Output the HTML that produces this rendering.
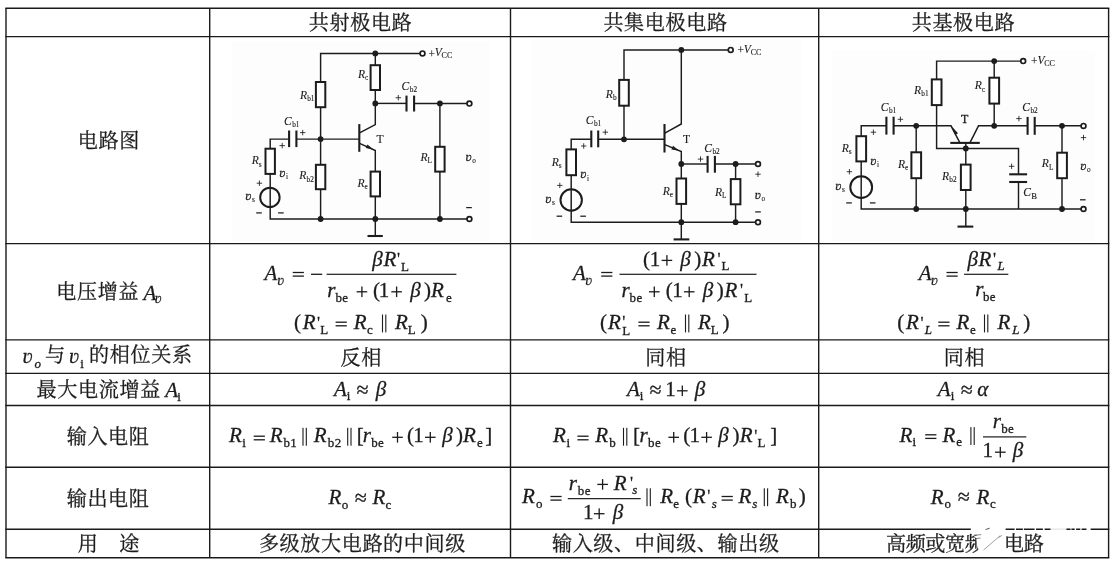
<!DOCTYPE html>
<html><head><meta charset="utf-8"><title>三种基本放大电路比较</title>
<style>
html,body{margin:0;padding:0;background:#fff}
#page{will-change:transform;filter:grayscale(1);position:relative;width:1114px;height:563px;overflow:hidden;background:#fff;font-family:"Liberation Serif",serif;color:#1c1c1c}
#page svg{position:absolute;left:0;top:0}
#page span{position:absolute;white-space:pre;line-height:1;font-family:"Liberation Serif",serif}
</style></head><body><div id="page">
<svg width="1114" height="563" viewBox="0 0 1114 563">
<g fill="#1c1c1c" stroke="#1c1c1c" stroke-width="0">
<rect x="232" y="41" width="258" height="200" fill="#fdfdfd"/>
<rect x="531" y="39" width="270" height="203" fill="#fdfdfd"/>
<rect x="832" y="51" width="263" height="190" fill="#fdfdfd"/>
<line x1="5.3" y1="8.3" x2="1109.3" y2="8.3" stroke="#1a1a1a" stroke-width="1.40"/>
<line x1="5.3" y1="36.6" x2="1109.3" y2="36.6" stroke="#1a1a1a" stroke-width="1.40"/>
<line x1="5.3" y1="243.6" x2="1109.3" y2="243.6" stroke="#1a1a1a" stroke-width="1.40"/>
<line x1="5.3" y1="339.9" x2="1109.3" y2="339.9" stroke="#1a1a1a" stroke-width="1.40"/>
<line x1="5.3" y1="373.4" x2="1109.3" y2="373.4" stroke="#1a1a1a" stroke-width="1.40"/>
<line x1="5.3" y1="405.5" x2="1109.3" y2="405.5" stroke="#1a1a1a" stroke-width="1.40"/>
<line x1="5.3" y1="467.2" x2="1109.3" y2="467.2" stroke="#1a1a1a" stroke-width="1.40"/>
<line x1="5.3" y1="529.3" x2="1109.3" y2="529.3" stroke="#1a1a1a" stroke-width="1.40"/>
<line x1="5.3" y1="557.7" x2="1109.3" y2="557.7" stroke="#1a1a1a" stroke-width="1.40"/>
<line x1="6.0" y1="8.3" x2="6.0" y2="557.7" stroke="#1a1a1a" stroke-width="1.40"/>
<line x1="209.7" y1="8.3" x2="209.7" y2="557.7" stroke="#1a1a1a" stroke-width="1.40"/>
<line x1="510.5" y1="8.3" x2="510.5" y2="557.7" stroke="#1a1a1a" stroke-width="1.40"/>
<line x1="818.7" y1="8.3" x2="818.7" y2="557.7" stroke="#1a1a1a" stroke-width="1.40"/>
<line x1="1108.6" y1="8.3" x2="1108.6" y2="557.7" stroke="#1a1a1a" stroke-width="1.40"/>
<polyline points="320.6,139.1 320.6,53.4 420.2,53.4" fill="none" stroke="#1c1c1c" stroke-width="1.45" stroke-linejoin="miter"/>
<line x1="320.6" y1="139.1" x2="320.6" y2="219.0" stroke="#1c1c1c" stroke-width="1.45"/>
<polyline points="375.3,53.4 375.3,124.6 359.6,132.9" fill="none" stroke="#1c1c1c" stroke-width="1.45" stroke-linejoin="miter"/>
<polyline points="359.6,143.4 375.3,150.5 375.3,236.0" fill="none" stroke="#1c1c1c" stroke-width="1.45" stroke-linejoin="miter"/>
<polygon points="365.7,148.1 367.5,144.5 373.4,149.6" fill="#1c1c1c"/>
<line x1="359.3" y1="124.1" x2="359.3" y2="151.8" stroke="#1c1c1c" stroke-width="2.10"/>
<line x1="296.4" y1="139.1" x2="359.3" y2="139.1" stroke="#1c1c1c" stroke-width="1.45"/>
<line x1="289.1" y1="130.5" x2="289.1" y2="147.1" stroke="#1c1c1c" stroke-width="2.10"/>
<line x1="296.4" y1="130.5" x2="296.4" y2="147.1" stroke="#1c1c1c" stroke-width="2.10"/>
<polyline points="289.1,139.1 270.2,139.1 270.2,219.0 467.1,219.0" fill="none" stroke="#1c1c1c" stroke-width="1.45" stroke-linejoin="miter"/>
<line x1="375.3" y1="103.4" x2="406.5" y2="103.4" stroke="#1c1c1c" stroke-width="1.45"/>
<line x1="414.1" y1="103.4" x2="467.1" y2="103.4" stroke="#1c1c1c" stroke-width="1.45"/>
<line x1="406.5" y1="95.6" x2="406.5" y2="111.5" stroke="#1c1c1c" stroke-width="2.10"/>
<line x1="414.1" y1="95.6" x2="414.1" y2="111.5" stroke="#1c1c1c" stroke-width="2.10"/>
<line x1="439.9" y1="103.4" x2="439.9" y2="219.0" stroke="#1c1c1c" stroke-width="1.45"/>
<line x1="367.5" y1="236.0" x2="382.8" y2="236.0" stroke="#1c1c1c" stroke-width="2.10"/>
<rect x="315.9" y="82.0" width="9.4" height="25.2" fill="#fff" stroke="#1c1c1c" stroke-width="2.0"/>
<rect x="315.9" y="164.8" width="9.4" height="24.4" fill="#fff" stroke="#1c1c1c" stroke-width="2.0"/>
<rect x="370.6" y="65.2" width="9.4" height="24.8" fill="#fff" stroke="#1c1c1c" stroke-width="2.0"/>
<rect x="370.6" y="171.6" width="9.4" height="24.8" fill="#fff" stroke="#1c1c1c" stroke-width="2.0"/>
<rect x="265.5" y="148.7" width="9.4" height="25.2" fill="#fff" stroke="#1c1c1c" stroke-width="2.0"/>
<rect x="435.2" y="146.8" width="9.4" height="24.8" fill="#fff" stroke="#1c1c1c" stroke-width="2.0"/>
<circle cx="269.9" cy="197.4" r="9.7" fill="none" stroke="#1c1c1c" stroke-width="2.0"/>
<circle cx="375.3" cy="53.4" r="2.9" fill="#1c1c1c"/>
<circle cx="375.3" cy="103.4" r="2.9" fill="#1c1c1c"/>
<circle cx="320.6" cy="139.1" r="2.9" fill="#1c1c1c"/>
<circle cx="439.9" cy="103.4" r="2.9" fill="#1c1c1c"/>
<circle cx="320.6" cy="219.0" r="2.9" fill="#1c1c1c"/>
<circle cx="375.3" cy="219.0" r="2.9" fill="#1c1c1c"/>
<circle cx="439.9" cy="219.0" r="2.9" fill="#1c1c1c"/>
<circle cx="422.5" cy="53.4" r="2.4" fill="#fff" stroke="#1c1c1c" stroke-width="1.7"/>
<circle cx="469.4" cy="103.6" r="2.4" fill="#fff" stroke="#1c1c1c" stroke-width="1.7"/>
<circle cx="469.4" cy="219.0" r="2.4" fill="#fff" stroke="#1c1c1c" stroke-width="1.7"/>
<line x1="395.6" y1="97.7" x2="401.0" y2="97.7" stroke="#1c1c1c" stroke-width="0.85"/>
<line x1="398.3" y1="95.0" x2="398.3" y2="100.4" stroke="#1c1c1c" stroke-width="0.85"/>
<line x1="300.0" y1="132.6" x2="305.4" y2="132.6" stroke="#1c1c1c" stroke-width="0.85"/>
<line x1="302.7" y1="129.9" x2="302.7" y2="135.3" stroke="#1c1c1c" stroke-width="0.85"/>
<line x1="279.5" y1="145.6" x2="284.9" y2="145.6" stroke="#1c1c1c" stroke-width="0.85"/>
<line x1="282.2" y1="142.9" x2="282.2" y2="148.3" stroke="#1c1c1c" stroke-width="0.85"/>
<line x1="256.7" y1="183.2" x2="262.1" y2="183.2" stroke="#1c1c1c" stroke-width="0.85"/>
<line x1="259.4" y1="180.5" x2="259.4" y2="185.9" stroke="#1c1c1c" stroke-width="0.85"/>
<line x1="256.2" y1="212.9" x2="261.8" y2="212.9" stroke="#1c1c1c" stroke-width="1.25"/>
<line x1="278.1" y1="212.9" x2="283.7" y2="212.9" stroke="#1c1c1c" stroke-width="1.25"/>
<line x1="466.2" y1="207.6" x2="471.8" y2="207.6" stroke="#1c1c1c" stroke-width="1.25"/>
<polyline points="624.0,139.3 624.0,49.9 728.4,49.9" fill="none" stroke="#1c1c1c" stroke-width="1.45" stroke-linejoin="miter"/>
<polyline points="681.3,49.9 681.3,124.0 664.8,133.1" fill="none" stroke="#1c1c1c" stroke-width="1.45" stroke-linejoin="miter"/>
<polyline points="664.8,144.7 681.3,151.5 681.3,239.4" fill="none" stroke="#1c1c1c" stroke-width="1.45" stroke-linejoin="miter"/>
<polygon points="671.4,149.4 673.0,145.8 679.2,150.8" fill="#1c1c1c"/>
<line x1="664.5" y1="124.0" x2="664.5" y2="152.5" stroke="#1c1c1c" stroke-width="2.10"/>
<line x1="598.2" y1="139.3" x2="664.5" y2="139.3" stroke="#1c1c1c" stroke-width="1.45"/>
<line x1="591.3" y1="130.5" x2="591.3" y2="147.3" stroke="#1c1c1c" stroke-width="2.10"/>
<line x1="598.2" y1="130.5" x2="598.2" y2="147.3" stroke="#1c1c1c" stroke-width="2.10"/>
<polyline points="591.3,139.3 571.2,139.3 571.2,222.2 755.7,222.2" fill="none" stroke="#1c1c1c" stroke-width="1.45" stroke-linejoin="miter"/>
<line x1="681.3" y1="164.0" x2="707.6" y2="164.0" stroke="#1c1c1c" stroke-width="1.45"/>
<line x1="714.9" y1="164.0" x2="755.7" y2="164.0" stroke="#1c1c1c" stroke-width="1.45"/>
<line x1="707.6" y1="155.9" x2="707.6" y2="172.7" stroke="#1c1c1c" stroke-width="2.10"/>
<line x1="714.9" y1="155.9" x2="714.9" y2="172.7" stroke="#1c1c1c" stroke-width="2.10"/>
<line x1="735.6" y1="164.0" x2="735.6" y2="222.2" stroke="#1c1c1c" stroke-width="1.45"/>
<line x1="673.6" y1="239.4" x2="689.3" y2="239.4" stroke="#1c1c1c" stroke-width="2.10"/>
<rect x="619.2" y="79.9" width="9.6" height="25.8" fill="#fff" stroke="#1c1c1c" stroke-width="2.0"/>
<rect x="566.4" y="149.4" width="9.6" height="25.8" fill="#fff" stroke="#1c1c1c" stroke-width="2.0"/>
<rect x="676.5" y="178.5" width="9.6" height="25.4" fill="#fff" stroke="#1c1c1c" stroke-width="2.0"/>
<rect x="730.8" y="179.1" width="9.6" height="25.2" fill="#fff" stroke="#1c1c1c" stroke-width="2.0"/>
<circle cx="571.2" cy="200.0" r="10.7" fill="none" stroke="#1c1c1c" stroke-width="2.0"/>
<circle cx="681.3" cy="49.9" r="2.9" fill="#1c1c1c"/>
<circle cx="624.0" cy="139.3" r="2.9" fill="#1c1c1c"/>
<circle cx="681.3" cy="164.0" r="2.9" fill="#1c1c1c"/>
<circle cx="735.6" cy="164.0" r="2.9" fill="#1c1c1c"/>
<circle cx="681.3" cy="222.2" r="2.9" fill="#1c1c1c"/>
<circle cx="735.6" cy="222.2" r="2.9" fill="#1c1c1c"/>
<circle cx="730.7" cy="49.9" r="2.4" fill="#fff" stroke="#1c1c1c" stroke-width="1.7"/>
<circle cx="758.0" cy="164.0" r="2.4" fill="#fff" stroke="#1c1c1c" stroke-width="1.7"/>
<circle cx="758.0" cy="222.2" r="2.4" fill="#fff" stroke="#1c1c1c" stroke-width="1.7"/>
<line x1="602.6" y1="132.2" x2="608.0" y2="132.2" stroke="#1c1c1c" stroke-width="0.85"/>
<line x1="605.3" y1="129.5" x2="605.3" y2="134.9" stroke="#1c1c1c" stroke-width="0.85"/>
<line x1="581.0" y1="146.0" x2="586.4" y2="146.0" stroke="#1c1c1c" stroke-width="0.85"/>
<line x1="583.7" y1="143.3" x2="583.7" y2="148.7" stroke="#1c1c1c" stroke-width="0.85"/>
<line x1="697.8" y1="159.1" x2="703.2" y2="159.1" stroke="#1c1c1c" stroke-width="0.85"/>
<line x1="700.5" y1="156.4" x2="700.5" y2="161.8" stroke="#1c1c1c" stroke-width="0.85"/>
<line x1="557.1" y1="185.4" x2="562.5" y2="185.4" stroke="#1c1c1c" stroke-width="0.85"/>
<line x1="559.8" y1="182.7" x2="559.8" y2="188.1" stroke="#1c1c1c" stroke-width="0.85"/>
<line x1="755.3" y1="174.2" x2="760.7" y2="174.2" stroke="#1c1c1c" stroke-width="0.85"/>
<line x1="758.0" y1="171.5" x2="758.0" y2="176.9" stroke="#1c1c1c" stroke-width="0.85"/>
<line x1="556.6" y1="216.2" x2="562.2" y2="216.2" stroke="#1c1c1c" stroke-width="1.25"/>
<line x1="580.3" y1="216.2" x2="585.9" y2="216.2" stroke="#1c1c1c" stroke-width="1.25"/>
<line x1="755.2" y1="211.9" x2="760.8" y2="211.9" stroke="#1c1c1c" stroke-width="1.25"/>
<polyline points="1020.9,61.1 936.6,61.1 936.6,148.5 1018.5,148.5 1018.5,174.3" fill="none" stroke="#1c1c1c" stroke-width="1.45" stroke-linejoin="miter"/>
<line x1="1018.5" y1="182.0" x2="1018.5" y2="209.0" stroke="#1c1c1c" stroke-width="1.45"/>
<line x1="1009.2" y1="174.3" x2="1027.1" y2="174.3" stroke="#1c1c1c" stroke-width="2.10"/>
<line x1="1009.2" y1="182.0" x2="1027.1" y2="182.0" stroke="#1c1c1c" stroke-width="2.10"/>
<line x1="994.2" y1="61.1" x2="994.2" y2="125.8" stroke="#1c1c1c" stroke-width="1.45"/>
<line x1="893.6" y1="125.8" x2="951.0" y2="125.8" stroke="#1c1c1c" stroke-width="1.45"/>
<line x1="886.4" y1="116.7" x2="886.4" y2="134.6" stroke="#1c1c1c" stroke-width="2.10"/>
<line x1="893.6" y1="116.7" x2="893.6" y2="134.6" stroke="#1c1c1c" stroke-width="2.10"/>
<polyline points="886.4,125.8 861.2,125.8 861.2,209.0 1081.2,209.0" fill="none" stroke="#1c1c1c" stroke-width="1.45" stroke-linejoin="miter"/>
<polyline points="950.6,125.8 951.0,125.8 959.8,142.6" fill="none" stroke="#1c1c1c" stroke-width="1.45" stroke-linejoin="miter"/>
<polygon points="958.0,133.3 955.2,135.1 951.8,126.6" fill="#1c1c1c"/>
<polyline points="970.0,142.6 978.5,125.8 1027.6,125.8" fill="none" stroke="#1c1c1c" stroke-width="1.45" stroke-linejoin="miter"/>
<line x1="950.3" y1="142.9" x2="979.8" y2="142.9" stroke="#1c1c1c" stroke-width="2.10"/>
<line x1="965.8" y1="142.9" x2="965.8" y2="226.6" stroke="#1c1c1c" stroke-width="1.45"/>
<line x1="957.5" y1="226.6" x2="973.3" y2="226.6" stroke="#1c1c1c" stroke-width="2.10"/>
<line x1="1034.7" y1="125.8" x2="1081.2" y2="125.8" stroke="#1c1c1c" stroke-width="1.45"/>
<line x1="1027.6" y1="116.9" x2="1027.6" y2="134.8" stroke="#1c1c1c" stroke-width="2.10"/>
<line x1="1034.7" y1="116.9" x2="1034.7" y2="134.8" stroke="#1c1c1c" stroke-width="2.10"/>
<line x1="1062.0" y1="125.8" x2="1062.0" y2="209.0" stroke="#1c1c1c" stroke-width="1.45"/>
<line x1="916.2" y1="125.8" x2="916.2" y2="209.0" stroke="#1c1c1c" stroke-width="1.45"/>
<rect x="931.8" y="79.4" width="9.7" height="25.7" fill="#fff" stroke="#1c1c1c" stroke-width="2.0"/>
<rect x="989.4" y="77.7" width="9.7" height="25.9" fill="#fff" stroke="#1c1c1c" stroke-width="2.0"/>
<rect x="856.4" y="136.2" width="9.7" height="25.2" fill="#fff" stroke="#1c1c1c" stroke-width="2.0"/>
<rect x="911.4" y="152.3" width="9.7" height="25.9" fill="#fff" stroke="#1c1c1c" stroke-width="2.0"/>
<rect x="960.9" y="164.6" width="9.7" height="25.4" fill="#fff" stroke="#1c1c1c" stroke-width="2.0"/>
<rect x="1057.2" y="152.7" width="9.7" height="25.5" fill="#fff" stroke="#1c1c1c" stroke-width="2.0"/>
<circle cx="861.2" cy="187.2" r="10.9" fill="none" stroke="#1c1c1c" stroke-width="2.0"/>
<circle cx="994.2" cy="61.1" r="2.9" fill="#1c1c1c"/>
<circle cx="916.2" cy="125.8" r="2.9" fill="#1c1c1c"/>
<circle cx="994.2" cy="125.8" r="2.9" fill="#1c1c1c"/>
<circle cx="1062.0" cy="125.8" r="2.9" fill="#1c1c1c"/>
<circle cx="965.8" cy="148.5" r="2.9" fill="#1c1c1c"/>
<circle cx="916.2" cy="209.0" r="2.9" fill="#1c1c1c"/>
<circle cx="965.8" cy="209.0" r="2.9" fill="#1c1c1c"/>
<circle cx="1062.0" cy="209.0" r="2.9" fill="#1c1c1c"/>
<circle cx="1023.2" cy="61.1" r="2.4" fill="#fff" stroke="#1c1c1c" stroke-width="1.7"/>
<circle cx="1083.5" cy="125.9" r="2.4" fill="#fff" stroke="#1c1c1c" stroke-width="1.7"/>
<circle cx="1083.5" cy="209.0" r="2.4" fill="#fff" stroke="#1c1c1c" stroke-width="1.7"/>
<line x1="897.7" y1="119.3" x2="903.1" y2="119.3" stroke="#1c1c1c" stroke-width="0.85"/>
<line x1="900.4" y1="116.6" x2="900.4" y2="122.0" stroke="#1c1c1c" stroke-width="0.85"/>
<line x1="870.7" y1="132.2" x2="876.1" y2="132.2" stroke="#1c1c1c" stroke-width="0.85"/>
<line x1="873.4" y1="129.5" x2="873.4" y2="134.9" stroke="#1c1c1c" stroke-width="0.85"/>
<line x1="1016.2" y1="118.6" x2="1021.6" y2="118.6" stroke="#1c1c1c" stroke-width="0.85"/>
<line x1="1018.9" y1="115.9" x2="1018.9" y2="121.3" stroke="#1c1c1c" stroke-width="0.85"/>
<line x1="846.7" y1="171.7" x2="852.1" y2="171.7" stroke="#1c1c1c" stroke-width="0.85"/>
<line x1="849.4" y1="169.0" x2="849.4" y2="174.4" stroke="#1c1c1c" stroke-width="0.85"/>
<line x1="1008.9" y1="166.3" x2="1014.3" y2="166.3" stroke="#1c1c1c" stroke-width="0.85"/>
<line x1="1011.6" y1="163.6" x2="1011.6" y2="169.0" stroke="#1c1c1c" stroke-width="0.85"/>
<line x1="1080.8" y1="137.6" x2="1086.2" y2="137.6" stroke="#1c1c1c" stroke-width="0.85"/>
<line x1="1083.5" y1="134.9" x2="1083.5" y2="140.3" stroke="#1c1c1c" stroke-width="0.85"/>
<line x1="846.2" y1="202.9" x2="851.8" y2="202.9" stroke="#1c1c1c" stroke-width="1.25"/>
<line x1="869.9" y1="202.9" x2="875.5" y2="202.9" stroke="#1c1c1c" stroke-width="1.25"/>
<line x1="1080.0" y1="199.8" x2="1085.6" y2="199.8" stroke="#1c1c1c" stroke-width="1.25"/>
<rect x="292.70" y="271.85" width="11.20" height="1.30" fill="#1c1c1c"/>
<rect x="292.70" y="275.45" width="11.20" height="1.30" fill="#1c1c1c"/>
<rect x="311.00" y="273.65" width="11.20" height="1.30" fill="#1c1c1c"/>
<rect x="326.60" y="273.70" width="129.80" height="1.20" fill="#1c1c1c"/>
<rect x="356.60" y="291.15" width="10.60" height="1.30" fill="#1c1c1c"/>
<rect x="361.25" y="286.50" width="1.30" height="10.60" fill="#1c1c1c"/>
<rect x="391.30" y="291.15" width="10.60" height="1.30" fill="#1c1c1c"/>
<rect x="395.95" y="286.50" width="1.30" height="10.60" fill="#1c1c1c"/>
<rect x="335.60" y="321.55" width="11.20" height="1.30" fill="#1c1c1c"/>
<rect x="335.60" y="325.15" width="11.20" height="1.30" fill="#1c1c1c"/>
<rect x="381.95" y="314.50" width="1.10" height="17.90" fill="#1c1c1c"/>
<rect x="385.25" y="314.50" width="1.10" height="17.90" fill="#1c1c1c"/>
<rect x="601.20" y="271.85" width="11.20" height="1.30" fill="#1c1c1c"/>
<rect x="601.20" y="275.45" width="11.20" height="1.30" fill="#1c1c1c"/>
<rect x="619.50" y="273.70" width="137.00" height="1.20" fill="#1c1c1c"/>
<rect x="661.60" y="259.75" width="10.60" height="1.30" fill="#1c1c1c"/>
<rect x="666.25" y="255.10" width="1.30" height="10.60" fill="#1c1c1c"/>
<rect x="649.00" y="291.15" width="10.60" height="1.30" fill="#1c1c1c"/>
<rect x="653.65" y="286.50" width="1.30" height="10.60" fill="#1c1c1c"/>
<rect x="683.90" y="291.15" width="10.60" height="1.30" fill="#1c1c1c"/>
<rect x="688.55" y="286.50" width="1.30" height="10.60" fill="#1c1c1c"/>
<rect x="638.40" y="321.55" width="11.20" height="1.30" fill="#1c1c1c"/>
<rect x="638.40" y="325.15" width="11.20" height="1.30" fill="#1c1c1c"/>
<rect x="684.95" y="314.50" width="1.10" height="17.90" fill="#1c1c1c"/>
<rect x="688.25" y="314.50" width="1.10" height="17.90" fill="#1c1c1c"/>
<rect x="946.50" y="271.85" width="11.20" height="1.30" fill="#1c1c1c"/>
<rect x="946.50" y="275.45" width="11.20" height="1.30" fill="#1c1c1c"/>
<rect x="964.10" y="273.70" width="44.20" height="1.20" fill="#1c1c1c"/>
<rect x="938.30" y="321.55" width="11.20" height="1.30" fill="#1c1c1c"/>
<rect x="938.30" y="325.15" width="11.20" height="1.30" fill="#1c1c1c"/>
<rect x="983.95" y="314.50" width="1.10" height="17.90" fill="#1c1c1c"/>
<rect x="987.25" y="314.50" width="1.10" height="17.90" fill="#1c1c1c"/>
<rect x="677.00" y="390.15" width="10.60" height="1.30" fill="#1c1c1c"/>
<rect x="681.65" y="385.50" width="1.30" height="10.60" fill="#1c1c1c"/>
<rect x="253.70" y="435.55" width="11.20" height="1.30" fill="#1c1c1c"/>
<rect x="253.70" y="439.15" width="11.20" height="1.30" fill="#1c1c1c"/>
<rect x="302.45" y="427.80" width="1.10" height="17.90" fill="#1c1c1c"/>
<rect x="305.75" y="427.80" width="1.10" height="17.90" fill="#1c1c1c"/>
<rect x="347.15" y="427.80" width="1.10" height="17.90" fill="#1c1c1c"/>
<rect x="350.45" y="427.80" width="1.10" height="17.90" fill="#1c1c1c"/>
<rect x="392.20" y="436.65" width="10.60" height="1.30" fill="#1c1c1c"/>
<rect x="396.85" y="432.00" width="1.30" height="10.60" fill="#1c1c1c"/>
<rect x="425.00" y="436.65" width="10.60" height="1.30" fill="#1c1c1c"/>
<rect x="429.65" y="432.00" width="1.30" height="10.60" fill="#1c1c1c"/>
<rect x="577.40" y="435.55" width="11.20" height="1.30" fill="#1c1c1c"/>
<rect x="577.40" y="439.15" width="11.20" height="1.30" fill="#1c1c1c"/>
<rect x="622.95" y="427.80" width="1.10" height="17.90" fill="#1c1c1c"/>
<rect x="626.25" y="427.80" width="1.10" height="17.90" fill="#1c1c1c"/>
<rect x="668.40" y="436.65" width="10.60" height="1.30" fill="#1c1c1c"/>
<rect x="673.05" y="432.00" width="1.30" height="10.60" fill="#1c1c1c"/>
<rect x="701.30" y="436.65" width="10.60" height="1.30" fill="#1c1c1c"/>
<rect x="705.95" y="432.00" width="1.30" height="10.60" fill="#1c1c1c"/>
<rect x="925.20" y="434.15" width="11.20" height="1.30" fill="#1c1c1c"/>
<rect x="925.20" y="437.75" width="11.20" height="1.30" fill="#1c1c1c"/>
<rect x="970.35" y="427.10" width="1.10" height="17.90" fill="#1c1c1c"/>
<rect x="973.65" y="427.10" width="1.10" height="17.90" fill="#1c1c1c"/>
<rect x="983.00" y="436.30" width="43.30" height="1.20" fill="#1c1c1c"/>
<rect x="995.00" y="451.55" width="10.60" height="1.30" fill="#1c1c1c"/>
<rect x="999.65" y="446.90" width="1.30" height="10.60" fill="#1c1c1c"/>
<rect x="550.40" y="495.85" width="11.20" height="1.30" fill="#1c1c1c"/>
<rect x="550.40" y="499.45" width="11.20" height="1.30" fill="#1c1c1c"/>
<rect x="567.80" y="498.05" width="72.90" height="1.20" fill="#1c1c1c"/>
<rect x="597.30" y="483.75" width="10.60" height="1.30" fill="#1c1c1c"/>
<rect x="601.95" y="479.10" width="1.30" height="10.60" fill="#1c1c1c"/>
<rect x="593.90" y="513.05" width="10.60" height="1.30" fill="#1c1c1c"/>
<rect x="598.55" y="508.40" width="1.30" height="10.60" fill="#1c1c1c"/>
<rect x="646.45" y="488.30" width="1.10" height="17.90" fill="#1c1c1c"/>
<rect x="649.75" y="488.30" width="1.10" height="17.90" fill="#1c1c1c"/>
<rect x="721.60" y="495.85" width="11.20" height="1.30" fill="#1c1c1c"/>
<rect x="721.60" y="499.45" width="11.20" height="1.30" fill="#1c1c1c"/>
<rect x="763.75" y="488.30" width="1.10" height="17.90" fill="#1c1c1c"/>
<rect x="767.05" y="488.30" width="1.10" height="17.90" fill="#1c1c1c"/>
<g font-family="'Liberation Serif','Noto Serif CJK SC',serif" font-size="20.08" fill="#1c1c1c" stroke="#1c1c1c" stroke-width="0.28">
<text x="308.81 329.51 350.21 370.91 391.61" y="29.93">共射极电路</text>
<text x="603.41 624.11 644.81 665.51 686.21 706.91" y="29.93">共集电极电路</text>
<text x="911.71 932.41 953.11 973.81 994.51" y="29.93">共基极电路</text>
<text x="77.76 98.46 119.16" y="147.93">电路图</text>
<text x="56.31 77.01 97.71 118.41" y="299.33">电压增益</text>
<text x="44.91" y="361.63">与</text>
<text x="89.11 109.81 130.51 151.21 171.91" y="361.63">的相位关系</text>
<text x="36.51 57.26 78.01 98.76 119.51 140.26" y="396.55" font-size="20.13">最大电流增益</text>
<text x="66.71 87.41 108.11 128.81" y="444.13">输入电阻</text>
<text x="66.71 87.41 108.11 128.81" y="506.13">输出电阻</text>
<text x="77.86 98.56 119.26" y="551.23" xml:space="preserve">用 途</text>
<text x="340.61 361.31" y="364.63">反相</text>
<text x="645.21 665.91" y="364.93">同相</text>
<text x="943.71 964.41" y="364.93">同相</text>
<text x="258.91 279.61 300.31 321.01 341.71 362.41 383.11 403.81 424.51 445.21" y="551.23">多级放大电路的中间级</text>
<text x="551.96 572.66 593.36 614.06 634.76 655.46 676.16 696.86 717.56 738.26 758.96" y="551.23">输入级、中间级、输出级</text>
<text x="886.05 905.71 925.37 945.03 964.69 984.35 1004.01 1023.67" y="551.26" font-size="20.15">高频或宽频带电路</text>
</g>
</g>
<g fill="#1c1c1c" font-family="Liberation Serif" stroke="#1c1c1c" stroke-width="0.3">
<text x="428.43" y="57.60" font-size="11.50" stroke-width="0.12">+</text>
<text x="434.69" y="56.30" font-size="11.60" font-style="italic" stroke-width="0.12">V</text>
<text x="441.57" y="58.30" font-size="8.00" stroke-width="0.12">CC</text>
<text x="358.06" y="78.10" font-size="11.60" font-style="italic" stroke-width="0.12">R</text>
<text x="365.02" y="80.30" font-size="7.30" stroke-width="0.12">c</text>
<text x="299.96" y="99.10" font-size="11.60" font-style="italic" stroke-width="0.12">R</text>
<text x="307.20" y="101.30" font-size="7.30" stroke-width="0.12">b1</text>
<text x="299.26" y="179.40" font-size="11.60" font-style="italic" stroke-width="0.12">R</text>
<text x="306.50" y="181.60" font-size="7.30" stroke-width="0.12">b2</text>
<text x="357.46" y="187.00" font-size="11.60" font-style="italic" stroke-width="0.12">R</text>
<text x="364.41" y="189.20" font-size="7.30" stroke-width="0.12">e</text>
<text x="420.56" y="161.10" font-size="11.60" font-style="italic" stroke-width="0.12">R</text>
<text x="427.59" y="163.30" font-size="7.30" stroke-width="0.12">L</text>
<text x="251.86" y="164.30" font-size="11.60" font-style="italic" stroke-width="0.12">R</text>
<text x="258.80" y="166.50" font-size="7.30" stroke-width="0.12">s</text>
<text x="283.95" y="124.90" font-size="11.60" font-style="italic" stroke-width="0.12">C</text>
<text x="292.20" y="127.10" font-size="7.30" stroke-width="0.12">b1</text>
<text x="401.55" y="90.00" font-size="11.60" font-style="italic" stroke-width="0.12">C</text>
<text x="409.80" y="92.20" font-size="7.30" stroke-width="0.12">b2</text>
<text x="279.26" y="176.60" font-size="12.60" font-style="italic" stroke-width="0.30">&#x28b;</text>
<text x="286.05" y="178.80" font-size="7.30" stroke-width="0.12">i</text>
<text x="245.36" y="199.90" font-size="12.60" font-style="italic" stroke-width="0.30">&#x28b;</text>
<text x="252.00" y="202.10" font-size="7.30" stroke-width="0.12">s</text>
<text x="465.56" y="160.70" font-size="12.60" font-style="italic" stroke-width="0.30">&#x28b;</text>
<text x="472.22" y="162.90" font-size="7.30" stroke-width="0.12">o</text>
<text x="376.49" y="143.40" font-size="11.70" stroke-width="0.12">T</text>
<text x="737.43" y="54.20" font-size="11.50" stroke-width="0.12">+</text>
<text x="743.79" y="52.90" font-size="11.60" font-style="italic" stroke-width="0.12">V</text>
<text x="750.67" y="54.90" font-size="8.00" stroke-width="0.12">CC</text>
<text x="605.76" y="98.00" font-size="11.60" font-style="italic" stroke-width="0.12">R</text>
<text x="613.00" y="100.20" font-size="7.30" stroke-width="0.12">b</text>
<text x="551.86" y="165.80" font-size="11.60" font-style="italic" stroke-width="0.12">R</text>
<text x="558.80" y="168.00" font-size="7.30" stroke-width="0.12">s</text>
<text x="662.86" y="194.50" font-size="11.60" font-style="italic" stroke-width="0.12">R</text>
<text x="669.81" y="196.70" font-size="7.30" stroke-width="0.12">e</text>
<text x="714.96" y="196.00" font-size="11.60" font-style="italic" stroke-width="0.12">R</text>
<text x="721.99" y="198.20" font-size="7.30" stroke-width="0.12">L</text>
<text x="585.65" y="124.00" font-size="11.60" font-style="italic" stroke-width="0.12">C</text>
<text x="593.90" y="126.20" font-size="7.30" stroke-width="0.12">b1</text>
<text x="704.15" y="151.50" font-size="11.60" font-style="italic" stroke-width="0.12">C</text>
<text x="712.40" y="153.70" font-size="7.30" stroke-width="0.12">b2</text>
<text x="580.26" y="178.40" font-size="12.60" font-style="italic" stroke-width="0.30">&#x28b;</text>
<text x="587.05" y="180.60" font-size="7.30" stroke-width="0.12">i</text>
<text x="545.36" y="202.50" font-size="12.60" font-style="italic" stroke-width="0.30">&#x28b;</text>
<text x="552.00" y="204.70" font-size="7.30" stroke-width="0.12">s</text>
<text x="754.76" y="198.80" font-size="12.60" font-style="italic" stroke-width="0.30">&#x28b;</text>
<text x="761.42" y="201.00" font-size="7.30" stroke-width="0.12">o</text>
<text x="682.99" y="143.30" font-size="11.70" stroke-width="0.12">T</text>
<text x="1031.03" y="65.40" font-size="11.50" stroke-width="0.12">+</text>
<text x="1037.39" y="64.10" font-size="11.60" font-style="italic" stroke-width="0.12">V</text>
<text x="1044.27" y="66.10" font-size="8.00" stroke-width="0.12">CC</text>
<text x="914.06" y="93.70" font-size="11.60" font-style="italic" stroke-width="0.12">R</text>
<text x="921.30" y="95.90" font-size="7.30" stroke-width="0.12">b1</text>
<text x="974.86" y="89.40" font-size="11.60" font-style="italic" stroke-width="0.12">R</text>
<text x="981.82" y="91.60" font-size="7.30" stroke-width="0.12">c</text>
<text x="841.86" y="152.20" font-size="11.60" font-style="italic" stroke-width="0.12">R</text>
<text x="848.80" y="154.40" font-size="7.30" stroke-width="0.12">s</text>
<text x="897.96" y="167.90" font-size="11.60" font-style="italic" stroke-width="0.12">R</text>
<text x="904.91" y="170.10" font-size="7.30" stroke-width="0.12">e</text>
<text x="942.06" y="179.60" font-size="11.60" font-style="italic" stroke-width="0.12">R</text>
<text x="949.30" y="181.80" font-size="7.30" stroke-width="0.12">b2</text>
<text x="1041.86" y="167.30" font-size="11.60" font-style="italic" stroke-width="0.12">R</text>
<text x="1048.89" y="169.50" font-size="7.30" stroke-width="0.12">L</text>
<text x="880.65" y="110.90" font-size="11.60" font-style="italic" stroke-width="0.12">C</text>
<text x="888.90" y="113.10" font-size="7.30" stroke-width="0.12">b1</text>
<text x="1022.15" y="110.90" font-size="11.60" font-style="italic" stroke-width="0.12">C</text>
<text x="1030.40" y="113.10" font-size="7.30" stroke-width="0.12">b2</text>
<text x="1023.25" y="196.30" font-size="11.60" font-style="italic" stroke-width="0.12">C</text>
<text x="1031.25" y="198.50" font-size="8.60" stroke-width="0.12">B</text>
<text x="870.26" y="164.70" font-size="12.60" font-style="italic" stroke-width="0.30">&#x28b;</text>
<text x="877.05" y="166.90" font-size="7.30" stroke-width="0.12">i</text>
<text x="835.36" y="189.50" font-size="12.60" font-style="italic" stroke-width="0.30">&#x28b;</text>
<text x="842.00" y="191.70" font-size="7.30" stroke-width="0.12">s</text>
<text x="1080.36" y="170.20" font-size="12.60" font-style="italic" stroke-width="0.30">&#x28b;</text>
<text x="1087.02" y="172.40" font-size="7.30" stroke-width="0.12">o</text>
<text x="961.08" y="122.90" font-size="12.00" stroke-width="0.30">T</text>
<text x="264.55" y="279.80" font-size="21.00" font-style="italic" stroke-width="0.30">A</text>
<text x="277.19" y="285.10" font-size="14.00" font-style="italic" stroke-width="0.30">&#x28b;</text>
<text x="372.14" y="265.50" font-size="21.00" font-style="italic" stroke-width="0.30">&beta;</text>
<text x="383.41" y="265.50" font-size="21.00" font-style="italic" stroke-width="0.30">R</text>
<text x="397.09" y="264.00" font-size="17.00" stroke-width="0.30">'</text>
<text x="400.93" y="270.80" font-size="13.00" stroke-width="0.30">L</text>
<text x="327.15" y="296.90" font-size="21.00" font-style="italic" stroke-width="0.30">r</text>
<text x="335.40" y="302.30" font-size="13.00" letter-spacing="0.35" stroke-width="0.30">be</text>
<text x="372.88" y="296.90" font-size="21.00" stroke-width="0.30">(</text>
<text x="378.75" y="296.90" font-size="21.00" stroke-width="0.30">1</text>
<text x="410.34" y="296.90" font-size="21.00" font-style="italic" stroke-width="0.30">&beta;</text>
<text x="424.12" y="296.90" font-size="21.00" stroke-width="0.30">)</text>
<text x="431.11" y="296.90" font-size="21.00" font-style="italic" stroke-width="0.30">R</text>
<text x="445.99" y="302.10" font-size="13.00" stroke-width="0.30">e</text>
<text x="294.08" y="329.10" font-size="21.00" stroke-width="0.30">(</text>
<text x="302.71" y="329.10" font-size="21.00" font-style="italic" stroke-width="0.30">R</text>
<text x="316.89" y="327.60" font-size="17.00" stroke-width="0.30">'</text>
<text x="320.13" y="333.70" font-size="13.00" stroke-width="0.30">L</text>
<text x="353.71" y="329.10" font-size="21.00" font-style="italic" stroke-width="0.30">R</text>
<text x="367.00" y="333.70" font-size="13.00" stroke-width="0.30">c</text>
<text x="394.91" y="329.10" font-size="21.00" font-style="italic" stroke-width="0.30">R</text>
<text x="407.83" y="333.70" font-size="13.00" stroke-width="0.30">L</text>
<text x="420.72" y="329.10" font-size="21.00" stroke-width="0.30">)</text>
<text x="572.95" y="279.80" font-size="21.00" font-style="italic" stroke-width="0.30">A</text>
<text x="585.19" y="285.10" font-size="14.00" font-style="italic" stroke-width="0.30">&#x28b;</text>
<text x="643.08" y="265.50" font-size="21.00" stroke-width="0.30">(</text>
<text x="649.75" y="265.50" font-size="21.00" stroke-width="0.30">1</text>
<text x="680.14" y="265.50" font-size="21.00" font-style="italic" stroke-width="0.30">&beta;</text>
<text x="694.22" y="265.50" font-size="21.00" stroke-width="0.30">)</text>
<text x="701.91" y="265.50" font-size="21.00" font-style="italic" stroke-width="0.30">R</text>
<text x="717.49" y="264.00" font-size="17.00" stroke-width="0.30">'</text>
<text x="721.53" y="270.30" font-size="13.00" stroke-width="0.30">L</text>
<text x="621.45" y="296.90" font-size="21.00" font-style="italic" stroke-width="0.30">r</text>
<text x="629.60" y="301.70" font-size="13.00" letter-spacing="0.35" stroke-width="0.30">be</text>
<text x="665.68" y="296.90" font-size="21.00" stroke-width="0.30">(</text>
<text x="672.35" y="296.90" font-size="21.00" stroke-width="0.30">1</text>
<text x="702.84" y="296.90" font-size="21.00" font-style="italic" stroke-width="0.30">&beta;</text>
<text x="716.82" y="296.90" font-size="21.00" stroke-width="0.30">)</text>
<text x="724.61" y="296.90" font-size="21.00" font-style="italic" stroke-width="0.30">R</text>
<text x="740.09" y="295.40" font-size="17.00" stroke-width="0.30">'</text>
<text x="744.23" y="301.70" font-size="13.00" stroke-width="0.30">L</text>
<text x="599.88" y="329.10" font-size="21.00" stroke-width="0.30">(</text>
<text x="608.01" y="329.10" font-size="21.00" font-style="italic" stroke-width="0.30">R</text>
<text x="622.19" y="326.60" font-size="17.00" stroke-width="0.30">'</text>
<text x="622.33" y="334.50" font-size="13.00" stroke-width="0.30">L</text>
<text x="656.91" y="329.10" font-size="21.00" font-style="italic" stroke-width="0.30">R</text>
<text x="670.59" y="333.70" font-size="13.00" stroke-width="0.30">e</text>
<text x="697.91" y="329.10" font-size="21.00" font-style="italic" stroke-width="0.30">R</text>
<text x="710.83" y="333.70" font-size="13.00" stroke-width="0.30">L</text>
<text x="722.62" y="329.10" font-size="21.00" stroke-width="0.30">)</text>
<text x="918.75" y="279.80" font-size="21.00" font-style="italic" stroke-width="0.30">A</text>
<text x="930.89" y="285.10" font-size="14.00" font-style="italic" stroke-width="0.30">&#x28b;</text>
<text x="967.54" y="265.50" font-size="21.00" font-style="italic" stroke-width="0.30">&beta;</text>
<text x="978.61" y="265.50" font-size="21.00" font-style="italic" stroke-width="0.30">R</text>
<text x="992.89" y="264.00" font-size="17.00" stroke-width="0.30">'</text>
<text x="997.55" y="270.30" font-size="13.00" font-style="italic" stroke-width="0.30">L</text>
<text x="975.15" y="296.00" font-size="21.00" font-style="italic" stroke-width="0.30">r</text>
<text x="982.90" y="301.30" font-size="13.00" letter-spacing="0.35" stroke-width="0.30">be</text>
<text x="897.18" y="329.10" font-size="21.00" stroke-width="0.30">(</text>
<text x="906.11" y="329.10" font-size="21.00" font-style="italic" stroke-width="0.30">R</text>
<text x="920.49" y="327.60" font-size="17.00" stroke-width="0.30">'</text>
<text x="924.65" y="333.70" font-size="13.00" font-style="italic" stroke-width="0.30">L</text>
<text x="956.51" y="329.10" font-size="21.00" font-style="italic" stroke-width="0.30">R</text>
<text x="969.99" y="333.70" font-size="13.00" stroke-width="0.30">e</text>
<text x="997.51" y="329.10" font-size="21.00" font-style="italic" stroke-width="0.30">R</text>
<text x="1012.15" y="333.70" font-size="13.00" font-style="italic" stroke-width="0.30">L</text>
<text x="1023.22" y="329.10" font-size="21.00" stroke-width="0.30">)</text>
<text x="334.05" y="395.90" font-size="21.00" font-style="italic" stroke-width="0.30">A</text>
<text x="346.83" y="400.10" font-size="13.00" stroke-width="0.30">i</text>
<text x="356.59" y="396.50" font-size="22.00" stroke-width="0.30">&asymp;</text>
<text x="375.74" y="395.90" font-size="21.00" font-style="italic" stroke-width="0.30">&beta;</text>
<text x="626.95" y="395.90" font-size="21.00" font-style="italic" stroke-width="0.30">A</text>
<text x="639.63" y="400.10" font-size="13.00" stroke-width="0.30">i</text>
<text x="649.39" y="396.50" font-size="22.00" stroke-width="0.30">&asymp;</text>
<text x="665.35" y="395.90" font-size="21.00" stroke-width="0.30">1</text>
<text x="694.64" y="395.90" font-size="21.00" font-style="italic" stroke-width="0.30">&beta;</text>
<text x="937.85" y="395.90" font-size="21.00" font-style="italic" stroke-width="0.30">A</text>
<text x="950.73" y="400.10" font-size="13.00" stroke-width="0.30">i</text>
<text x="960.79" y="396.50" font-size="22.00" stroke-width="0.30">&asymp;</text>
<text x="977.27" y="395.90" font-size="21.00" font-style="italic" stroke-width="0.30">&alpha;</text>
<text x="228.91" y="442.40" font-size="21.00" font-style="italic" stroke-width="0.30">R</text>
<text x="242.13" y="446.70" font-size="13.00" stroke-width="0.30">i</text>
<text x="269.71" y="442.40" font-size="21.00" font-style="italic" stroke-width="0.30">R</text>
<text x="283.50" y="446.70" font-size="13.00" letter-spacing="0.35" stroke-width="0.30">b1</text>
<text x="313.71" y="442.40" font-size="21.00" font-style="italic" stroke-width="0.30">R</text>
<text x="327.80" y="446.70" font-size="13.00" letter-spacing="0.35" stroke-width="0.30">b2</text>
<text x="356.64" y="442.40" font-size="21.00" stroke-width="0.30">[</text>
<text x="362.75" y="442.40" font-size="21.00" font-style="italic" stroke-width="0.30">r</text>
<text x="371.20" y="446.70" font-size="13.00" letter-spacing="0.35" stroke-width="0.30">be</text>
<text x="406.88" y="442.40" font-size="21.00" stroke-width="0.30">(</text>
<text x="413.15" y="442.40" font-size="21.00" stroke-width="0.30">1</text>
<text x="442.34" y="442.40" font-size="21.00" font-style="italic" stroke-width="0.30">&beta;</text>
<text x="455.92" y="442.40" font-size="21.00" stroke-width="0.30">)</text>
<text x="462.91" y="442.40" font-size="21.00" font-style="italic" stroke-width="0.30">R</text>
<text x="476.89" y="446.70" font-size="13.00" stroke-width="0.30">e</text>
<text x="485.14" y="442.40" font-size="21.00" stroke-width="0.30">]</text>
<text x="552.91" y="442.40" font-size="21.00" font-style="italic" stroke-width="0.30">R</text>
<text x="566.53" y="446.70" font-size="13.00" stroke-width="0.30">i</text>
<text x="595.31" y="442.40" font-size="21.00" font-style="italic" stroke-width="0.30">R</text>
<text x="609.20" y="446.70" font-size="13.00" stroke-width="0.30">b</text>
<text x="633.04" y="442.40" font-size="21.00" stroke-width="0.30">[</text>
<text x="639.45" y="442.40" font-size="21.00" font-style="italic" stroke-width="0.30">r</text>
<text x="648.10" y="446.70" font-size="13.00" letter-spacing="0.35" stroke-width="0.30">be</text>
<text x="683.18" y="442.40" font-size="21.00" stroke-width="0.30">(</text>
<text x="689.45" y="442.40" font-size="21.00" stroke-width="0.30">1</text>
<text x="718.24" y="442.40" font-size="21.00" font-style="italic" stroke-width="0.30">&beta;</text>
<text x="732.52" y="442.40" font-size="21.00" stroke-width="0.30">)</text>
<text x="739.81" y="442.40" font-size="21.00" font-style="italic" stroke-width="0.30">R</text>
<text x="754.29" y="440.90" font-size="17.00" stroke-width="0.30">'</text>
<text x="757.53" y="446.70" font-size="13.00" stroke-width="0.30">L</text>
<text x="770.14" y="442.40" font-size="21.00" stroke-width="0.30">]</text>
<text x="899.51" y="441.70" font-size="21.00" font-style="italic" stroke-width="0.30">R</text>
<text x="912.53" y="446.30" font-size="13.00" stroke-width="0.30">i</text>
<text x="942.61" y="441.70" font-size="21.00" font-style="italic" stroke-width="0.30">R</text>
<text x="956.29" y="446.30" font-size="13.00" stroke-width="0.30">e</text>
<text x="992.85" y="427.50" font-size="21.00" font-style="italic" stroke-width="0.30">r</text>
<text x="1001.20" y="432.50" font-size="13.00" letter-spacing="0.35" stroke-width="0.30">be</text>
<text x="982.55" y="457.30" font-size="21.00" stroke-width="0.30">1</text>
<text x="1012.84" y="457.30" font-size="21.00" font-style="italic" stroke-width="0.30">&beta;</text>
<text x="328.51" y="504.00" font-size="21.00" font-style="italic" stroke-width="0.30">R</text>
<text x="341.80" y="508.70" font-size="13.00" stroke-width="0.30">o</text>
<text x="354.69" y="504.60" font-size="22.00" stroke-width="0.30">&asymp;</text>
<text x="372.51" y="504.00" font-size="21.00" font-style="italic" stroke-width="0.30">R</text>
<text x="385.50" y="508.70" font-size="13.00" stroke-width="0.30">c</text>
<text x="522.01" y="502.90" font-size="21.00" font-style="italic" stroke-width="0.30">R</text>
<text x="536.10" y="508.30" font-size="13.00" stroke-width="0.30">o</text>
<text x="568.85" y="489.50" font-size="21.00" font-style="italic" stroke-width="0.30">r</text>
<text x="577.80" y="494.50" font-size="13.00" letter-spacing="0.35" stroke-width="0.30">be</text>
<text x="613.81" y="489.50" font-size="21.00" font-style="italic" stroke-width="0.30">R</text>
<text x="629.89" y="488.00" font-size="17.00" stroke-width="0.30">'</text>
<text x="632.14" y="493.90" font-size="13.00" font-style="italic" stroke-width="0.30">s</text>
<text x="583.05" y="518.80" font-size="21.00" stroke-width="0.30">1</text>
<text x="612.74" y="518.80" font-size="21.00" font-style="italic" stroke-width="0.30">&beta;</text>
<text x="660.31" y="502.90" font-size="21.00" font-style="italic" stroke-width="0.30">R</text>
<text x="673.19" y="507.90" font-size="13.00" stroke-width="0.30">e</text>
<text x="684.98" y="502.90" font-size="21.00" stroke-width="0.30">(</text>
<text x="692.71" y="502.90" font-size="21.00" font-style="italic" stroke-width="0.30">R</text>
<text x="707.29" y="501.40" font-size="17.00" stroke-width="0.30">'</text>
<text x="711.74" y="507.50" font-size="13.00" font-style="italic" stroke-width="0.30">s</text>
<text x="738.51" y="502.90" font-size="21.00" font-style="italic" stroke-width="0.30">R</text>
<text x="752.24" y="507.50" font-size="13.00" font-style="italic" stroke-width="0.30">s</text>
<text x="776.01" y="502.90" font-size="21.00" font-style="italic" stroke-width="0.30">R</text>
<text x="789.90" y="507.90" font-size="13.00" stroke-width="0.30">b</text>
<text x="798.82" y="502.90" font-size="21.00" stroke-width="0.30">)</text>
<text x="930.71" y="503.70" font-size="21.00" font-style="italic" stroke-width="0.30">R</text>
<text x="944.50" y="508.40" font-size="13.00" stroke-width="0.30">o</text>
<text x="957.69" y="504.30" font-size="22.00" stroke-width="0.30">&asymp;</text>
<text x="976.51" y="503.70" font-size="21.00" font-style="italic" stroke-width="0.30">R</text>
<text x="989.90" y="508.40" font-size="13.00" stroke-width="0.30">c</text>
<text x="143.55" y="299.50" font-size="21.00" font-style="italic" stroke-width="0.30">A</text>
<text x="154.69" y="303.30" font-size="14.00" font-style="italic" stroke-width="0.30">&#x28b;</text>
<text x="22.43" y="363.30" font-size="21.00" font-style="italic" stroke-width="0.30">&#x28b;</text>
<text x="34.41" y="367.80" font-size="13.00" font-style="italic" stroke-width="0.30">o</text>
<text x="69.03" y="363.30" font-size="21.00" font-style="italic" stroke-width="0.30">&#x28b;</text>
<text x="80.33" y="367.80" font-size="13.00" stroke-width="0.30">i</text>
<text x="165.25" y="396.80" font-size="21.00" font-style="italic" stroke-width="0.30">A</text>
<text x="177.33" y="400.60" font-size="13.00" stroke-width="0.30">i</text>
</g>
<rect x="970.8" y="527.5" width="34.8" height="3.6" fill="#fff"/>
<polygon points="976.6,531 1005.8,531 1005.8,555 981,555 978,548 976.6,540" fill="#fff"/>
<rect x="1014.6" y="527.8" width="1.4" height="3.0" fill="#fff"/>
<rect x="1022.9" y="527.8" width="1.0" height="3.0" fill="#fff"/>
<rect x="1034.6" y="527.8" width="1.4" height="3.0" fill="#fff"/>
<rect x="1042.9" y="527.8" width="1.7" height="3.0" fill="#fff"/>
<rect x="1050.5" y="527.8" width="15.9" height="3.0" fill="#fff"/>
<rect x="1070.5" y="527.8" width="0.9" height="3.0" fill="#fff"/>
<rect x="1074.7" y="527.8" width="1.4" height="3.0" fill="#fff"/>
<rect x="1080.3" y="527.8" width="1.3" height="3.0" fill="#fff"/>
<rect x="1086.5" y="527.8" width="4.1" height="3.0" fill="#fff"/>
<line x1="985.6" y1="529.6" x2="989.7" y2="528.2" stroke="#555" stroke-width="1"/>
<line x1="983.5" y1="550.1" x2="1000" y2="535.8" stroke="#777" stroke-width="0.7"/>
<line x1="975.8" y1="535.2" x2="981.2" y2="534.6" stroke="#666" stroke-width="0.8"/>
<line x1="975.8" y1="538.6" x2="980.6" y2="538.0" stroke="#666" stroke-width="0.8"/>
<line x1="998.5" y1="537.6" x2="1001.8" y2="535.4" stroke="#777" stroke-width="0.8"/>
<rect x="1051" y="528.6" width="15" height="1" fill="#ddd"/>
</svg>

</div></body></html>
